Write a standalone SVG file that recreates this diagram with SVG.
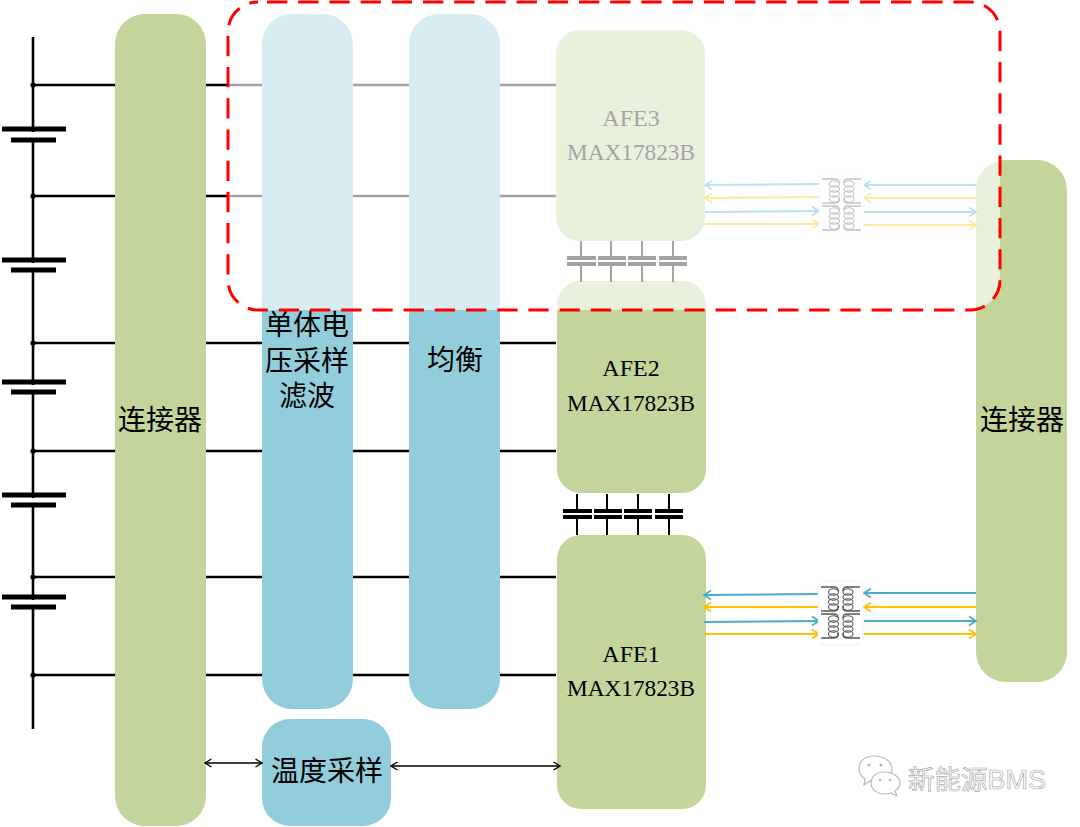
<svg xmlns="http://www.w3.org/2000/svg" width="1080" height="827" viewBox="0 0 1080 827">
<defs>
<style>
.g{fill:#c3d59b}.b{fill:#92cddc}
.w{stroke:#000;stroke-width:2.6;fill:none}
.bat{stroke:#000;stroke-width:5;fill:none}
.cap{stroke:#000;stroke-width:2;fill:none}
.capb{stroke:#000;stroke-width:4;fill:none}
.t{font-family:"Noto Sans CJK SC",sans-serif;font-size:28px;fill:#000;text-anchor:middle}
.m{font-family:"Liberation Serif",serif;font-size:24px;fill:#000;text-anchor:middle}
.ab{stroke:#4bacc6;stroke-width:2;fill:none}
.ay{stroke:#ffc000;stroke-width:2;fill:none}
.tr{stroke:#555;stroke-width:1.5;fill:none}
.tc{stroke:#555;stroke-width:1.1;fill:none}
.ar{stroke:#000;stroke-width:1.5;fill:none}
</style>
<marker id="mb" markerWidth="10" markerHeight="12" refX="8" refY="6" orient="auto-start-reverse" markerUnits="userSpaceOnUse"><path d="M1 1.5L8 6L1 10.5" fill="none" stroke="#4bacc6" stroke-width="1.8"/></marker>
<marker id="my" markerWidth="10" markerHeight="12" refX="8" refY="6" orient="auto-start-reverse" markerUnits="userSpaceOnUse"><path d="M1 1.5L8 6L1 10.5" fill="none" stroke="#ffc000" stroke-width="1.8"/></marker>
<marker id="mk" markerWidth="10" markerHeight="10" refX="8" refY="5" orient="auto-start-reverse" markerUnits="userSpaceOnUse"><path d="M1.5 1L8 5L1.5 9" fill="none" stroke="#000" stroke-width="1.4"/></marker>
<g id="coil">
<path class="tr" d="M3 0H16C20 0 20 2 20 4M3 24H16C20 24 20 22 20 19M42 0H29C25 0 25 2 25 4M42 24H29C25 24 25 22 25 19"/>
<ellipse class="tc" cx="15.5" cy="5" rx="5" ry="3.2"/><ellipse class="tc" cx="15.5" cy="10" rx="5" ry="3.2"/><ellipse class="tc" cx="15.5" cy="15" rx="5" ry="3.2"/><ellipse class="tc" cx="15.5" cy="20" rx="5" ry="3.2"/>
<ellipse class="tc" cx="30" cy="5" rx="5" ry="3.2"/><ellipse class="tc" cx="30" cy="10" rx="5" ry="3.2"/><ellipse class="tc" cx="30" cy="15" rx="5" ry="3.2"/><ellipse class="tc" cx="30" cy="20" rx="5" ry="3.2"/>
</g>
<g id="xf"><rect x="0" y="0" width="45" height="64" rx="7" fill="#fff" stroke="#ddd" stroke-width="0.8" stroke-dasharray="1.5 1"/><use href="#coil" x="0" y="6"/><use href="#coil" x="0" y="33"/></g>
<g id="cap4"><path class="cap" d="M21 0V17M21 23V41M51 0V17M51 23V41M82 0V17M82 23V41M113 0V17M113 23V41"/><path class="capb" d="M7 17H36M38 17H66M68 17H96M99 17H127M7 23H36M38 23H66M68 23H96M99 23H127"/></g>
</defs>
<rect width="1080" height="827" fill="#fff"/>
<g id="connectors">
<path class="w" d="M33 37V729" stroke-width="3"/>
<path class="w" d="M33 85H556M33 196H556M33 343H556M33 451H556M33 577H556M33 675H556"/>
<g fill="#000"><circle cx="33" cy="85" r="2.6"/><circle cx="33" cy="196" r="2.6"/><circle cx="33" cy="343" r="2.6"/><circle cx="33" cy="451" r="2.6"/><circle cx="33" cy="577" r="2.6"/><circle cx="33" cy="675" r="2.6"/></g>
</g>
<g id="batteries">
<path stroke="#fff" stroke-width="8" d="M33 132V138M33 263V268M33 385V390M33 498V503M33 600V605"/>
<path class="bat" d="M2 129H66M11 140H56M2 260H66M11 270H56M2 382H66M11 392H56M2 495H66M11 505H56M2 597H66M11 607H56"/>
</g>
<g id="conn-left"><rect class="g" x="115" y="14" width="91" height="812" rx="30"/><text class="t" x="160" y="430">连接器</text></g>
<g id="filter"><rect class="b" x="262" y="14" width="91" height="695" rx="30"/><text class="t"><tspan x="307" y="335">单体电</tspan><tspan x="307" y="371">压采样</tspan><tspan x="307" y="406">滤波</tspan></text></g>
<g id="balance"><rect class="b" x="409" y="14" width="91" height="695" rx="30"/><text class="t" x="455" y="370">均衡</text></g>
<g id="temp"><rect class="b" x="262" y="719" width="129" height="107" rx="28"/><text class="t" x="327" y="781">温度采样</text></g>
<g id="afe3"><rect class="g" x="556" y="30" width="149" height="211" rx="24"/><text class="m" x="631" y="126">AFE3</text><text class="m" x="631" y="160" textLength="128" lengthAdjust="spacingAndGlyphs">MAX17823B</text></g>
<g id="afe2"><rect class="g" x="557" y="281" width="149" height="212" rx="24"/><text class="m" x="631" y="376">AFE2</text><text class="m" x="631" y="411" textLength="128" lengthAdjust="spacingAndGlyphs">MAX17823B</text></g>
<g id="afe1"><rect class="g" x="557" y="535" width="149" height="274" rx="24"/><text class="m" x="631" y="662">AFE1</text><text class="m" x="631" y="696" textLength="128" lengthAdjust="spacingAndGlyphs">MAX17823B</text></g>
<g id="conn-right"><rect class="g" x="976" y="160" width="91" height="522" rx="30"/><text class="t" x="1022" y="430">连接器</text></g>
<g id="caps">
<use href="#cap4" x="560" y="241"/>
<use href="#cap4" x="556" y="494"/>
</g>
<g id="links-top">
<path class="ab" marker-end="url(#mb)" d="M819 184L705 185"/><path class="ay" marker-end="url(#my)" d="M819 197L705 198"/>
<path class="ab" marker-end="url(#mb)" d="M705 212L819 211"/><path class="ay" marker-end="url(#my)" d="M705 224L819 224"/>
<path class="ab" marker-end="url(#mb)" d="M976 185H864"/><path class="ay" marker-end="url(#my)" d="M976 198H864"/>
<path class="ab" marker-end="url(#mb)" d="M864 212H976"/><path class="ay" marker-end="url(#my)" d="M864 225H976"/>
<use href="#xf" x="819" y="173"/>
</g>
<g id="links-bottom">
<path class="ab" marker-end="url(#mb)" d="M819 594L704 595"/><path class="ay" marker-end="url(#my)" d="M819 607L704 607"/>
<path class="ab" marker-end="url(#mb)" d="M704 622L819 621"/><path class="ay" marker-end="url(#my)" d="M704 634L819 634"/>
<path class="ab" marker-end="url(#mb)" d="M976 593H864"/><path class="ay" marker-end="url(#my)" d="M976 607H864"/>
<path class="ab" marker-end="url(#mb)" d="M864 621H976"/><path class="ay" marker-end="url(#my)" d="M864 634H976"/>
<use href="#xf" x="818" y="581"/>
</g>
<g id="temp-links">
<path class="ar" marker-start="url(#mk)" marker-end="url(#mk)" d="M205 763H262"/>
<path class="ar" marker-start="url(#mk)" marker-end="url(#mk)" d="M391 766H560"/>
</g>
<g id="highlight"><rect x="228" y="2" width="772" height="308" rx="30" fill="#fff" fill-opacity="0.64" stroke="#f00" stroke-width="3" stroke-dasharray="20.3 10.9" stroke-dashoffset="22.2"/></g>
<g id="watermark">
<g fill="#fff" stroke="#bbb" stroke-width="1.2"><path d="M874 756C863 756 859 763 859 769C859 773 862 777 865 779L864 785L870 781C873 782 876 782 878 782C888 782 892 776 892 769C892 763 886 756 874 756Z"/><path d="M884 772C875 772 871 778 871 783C871 790 878 794 884 794C886 794 889 794 891 793L897 796L895 791C898 789 900 786 900 783C900 777 893 772 884 772Z"/></g>
<g fill="#bbb"><circle cx="869" cy="765" r="1.6"/><circle cx="881" cy="765" r="1.6"/><circle cx="880" cy="780" r="1.3"/><circle cx="890" cy="780" r="1.3"/></g>
<text x="908" y="789" font-family="Noto Sans CJK SC,sans-serif" font-size="26.5" fill="#fff" stroke="#aaa" stroke-width="0.7">新能源<tspan font-family="Liberation Sans,sans-serif" font-size="27">BMS</tspan></text>
</g>
</svg>
